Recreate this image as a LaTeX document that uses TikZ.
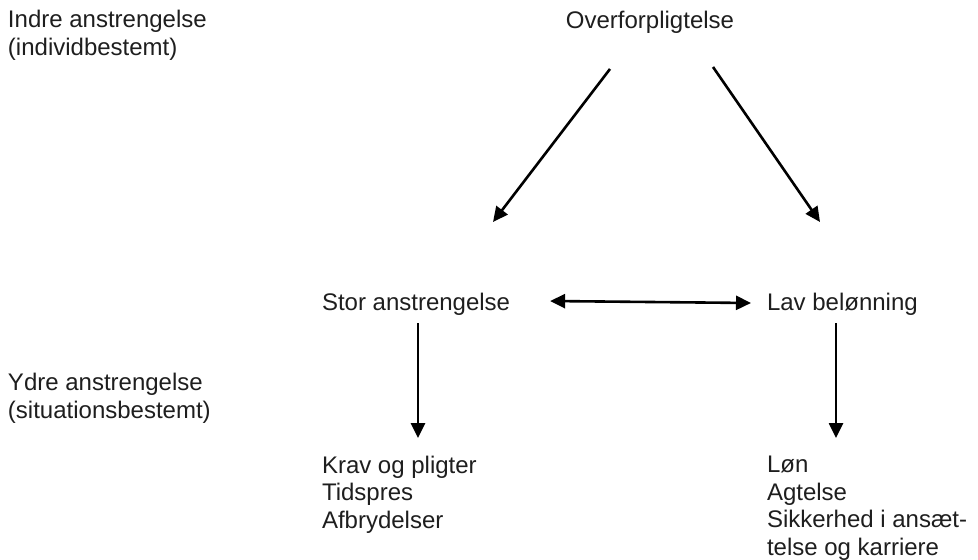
\documentclass[tikz,border=0pt]{standalone}
\usepackage{fontspec}
\setmainfont{Liberation Sans}
\usetikzlibrary{arrows.meta,calc}

\tikzset{
  txt/.style={inner sep=0pt,outer sep=0pt,anchor=base west,align=left,
    font=\fontsize{24}{27.4}\selectfont,color={rgb, 255:red, 30; green, 30; blue, 30}},
  arr/.style={line width=2.6pt,-{Triangle[length=15pt,width=14pt]}},
  arrboth/.style={line width=2.6pt,{Triangle[length=15pt,width=14pt]}-{Triangle[length=15pt,width=14pt]}}
}

\begin{document}
\begin{tikzpicture}[x=1pt,y=1pt,yscale=-1]
\useasboundingbox (0,0) rectangle (978,560);

% Text Node (base = last line)
\node[txt] (indre) at (8,55) {Indre anstrengelse\\(individbestemt)};
% Text Node
\node[txt] (ydre) at (8,418) {Ydre anstrengelse\\(situationsbestemt)};
% Text Node
\node[txt,anchor=base] (over) at (650,28) {Overforpligtelse};
% Text Node
\node[txt] (stor) at (322,310) {Stor anstrengelse};
% Text Node
\node[txt] (lav) at (767,310) {Lav belønning};
% Text Node
\node[txt] (krav) at (322,528) {Krav og pligter\\Tidspres\\Afbrydelser};
% Text Node
\node[txt] (lon) at (767,555) {Løn\\Agtelse\\Sikkerhed i ansæt-\\telse og karriere};

%Straight Lines [id:da4418]
\draw[arr] ($(over.south)+(-40,36)$) -- ($(stor.base west)+(171,-88)$);
%Straight Lines [id:da7302]
\draw[arr] ($(over.south)+(63,34)$) -- ($(lav.base west)+(53,-88)$);
%Straight Lines [id:da1157]
\draw[arrboth] ($(stor.base east)+(40,-9)$) -- ($(lav.base west)+(-16,-7)$);
%Straight Lines [id:da9026]
\draw[arr] ($(stor.base west)+(96,13)$) -- ($(stor.base west)+(96,128)$);
%Straight Lines [id:da6631]
\draw[arr] ($(lav.base west)+(69,13)$) -- ($(lav.base west)+(69,128)$);

\end{tikzpicture}
\end{document}
